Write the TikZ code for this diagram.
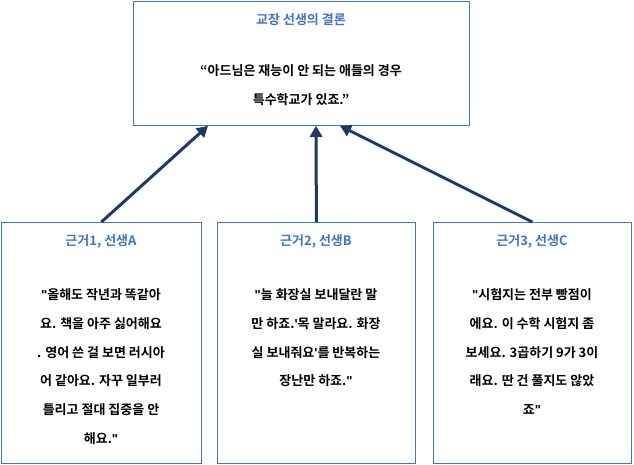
\documentclass[tikz,border=0pt]{standalone}
\usepackage{fontspec}
\setmainfont{Noto Sans CJK KR}[BoldFont={Noto Sans CJK KR Bold}]
\newfontfamily\latf{Liberation Sans}
\newcommand{\dq}{{\latf\bfseries\symbol{34}}}
\newcommand{\sq}{{\latf\bfseries\symbol{39}}}
\usetikzlibrary{arrows.meta}
\definecolor{ttl}{HTML}{4472C4}
\definecolor{arr}{HTML}{1F3864}
\begin{document}
\begin{tikzpicture}[x=1pt,y=-1pt,
  box/.style={draw=ttl,line width=0.8pt},
  ttext/.style={text=ttl,font=\fontsize{13}{14}\selectfont\bfseries,anchor=center},
  body/.style={font=\fontsize{13}{28.8}\selectfont\bfseries,align=center,anchor=north},
  link/.style={draw=arr,line width=3pt,-{Triangle[length=11pt,width=12pt]}}]
\useasboundingbox (0,0) rectangle (634,464);
\node[box,minimum width=336,minimum height=124,anchor=north west] (top) at (133,1) {};
\node[box,minimum width=200,minimum height=241,anchor=north west] (a) at (1,222) {};
\node[box,minimum width=198,minimum height=241,anchor=north west] (b) at (217,222) {};
\node[box,minimum width=198,minimum height=241,anchor=north west] (c) at (433,222) {};
\node[ttext] (tt) at (301,20) {교장 선생의 결론};
\node[body] (tb) at (301,61) {“아드님은 재능이 안 되는 애들의 경우\\특수학교가 있죠.”};
\node[ttext] (at) at (101,241) {근거1, 선생A};
\node[ttext] (bt) at (316,241) {근거2, 선생B};
\node[ttext] (ct) at (532,241) {근거3, 선생C};
\node[body] (ab) at (101,285) {\dq 올해도 작년과 똑같아\\요. 책을 아주 싫어해요\\. 영어 쓴 걸 보면 러시아\\어 같아요. 자꾸 일부러\\틀리고 절대 집중을 안\\해요.\dq};
\node[body] (bb) at (316,285) {\dq 늘 화장실 보내달란 말\\만 하죠.\sq 목 말라요. 화장\\실 보내줘요\sq 를 반복하는\\장난만 하죠.\dq};
\node[body] (cb) at (532,285) {\dq 시험지는 전부 빵점이\\에요. 이 수학 시험지 좀\\보세요. 3곱하기 9가 3이\\래요. 딴 건 풀지도 않았\\죠\dq};
\draw[link] (a.north) -- (top.south -| 208,0) ;
\draw[link] (b.north) -- (top.south -| 316,0);
\draw[link] (c.north) -- (top.south -| 340,0);
\end{tikzpicture}
\end{document}
